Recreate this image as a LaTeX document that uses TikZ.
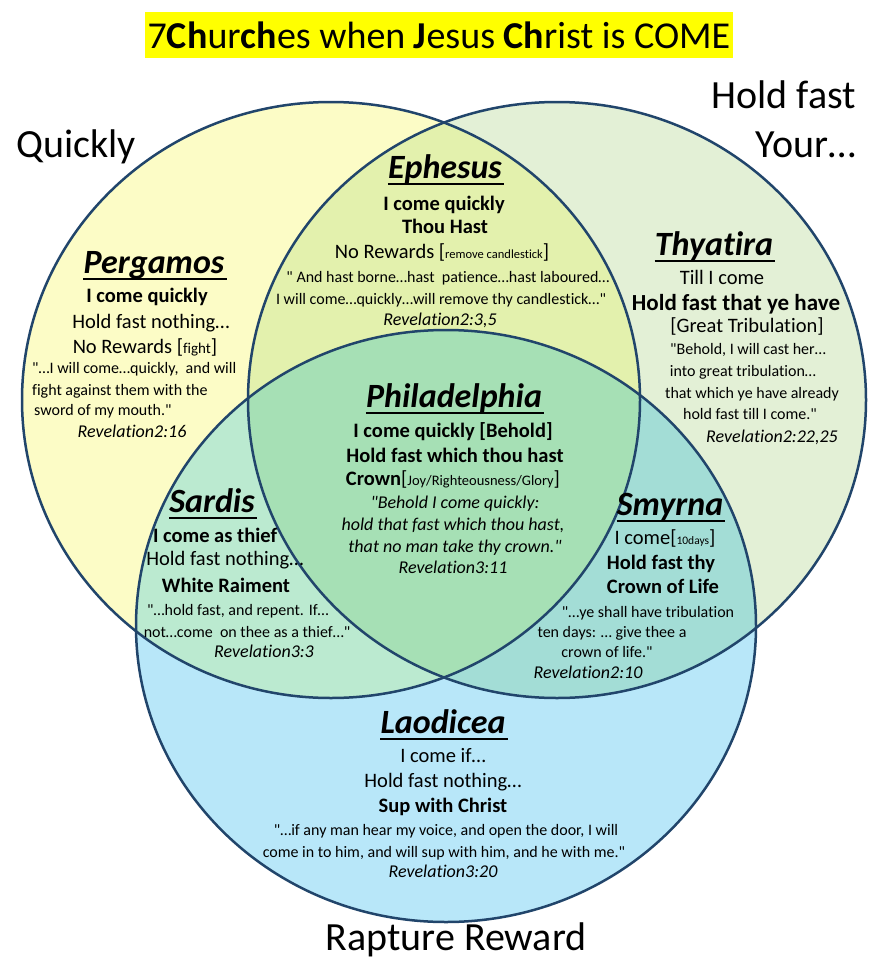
\documentclass[tikz,border=0pt]{standalone}
\usepackage{fontspec}
\setmainfont{Carlito}[Ligatures={NoCommon,NoContextual},Contextuals={NoAlternate}]
\newcommand\fsz[1]{\fontsize{#1}{#1}\selectfont}
\newcommand\dq{\textquotedbl}
\newcommand\tIi{t\kern0pt i}
\definecolor{cyel}{HTML}{FCFCC6}
\definecolor{cgrn}{HTML}{E3F0D6}
\definecolor{cblu}{HTML}{B8E7F9}
\definecolor{ceph}{HTML}{E3F1AD}
\definecolor{csar}{HTML}{BBEAD0}
\definecolor{csmy}{HTML}{A3DDD6}
\definecolor{cphi}{HTML}{A6E0B5}
\definecolor{cline}{HTML}{21456B}
\definecolor{chl}{HTML}{FFFF00}
\newcommand\venL{(331,400) ellipse [x radius=309pt,y radius=298pt]}
\newcommand\venR{(557,400) ellipse [x radius=309pt,y radius=298pt]}
\newcommand\venB{(446,626) ellipse [x radius=310pt,y radius=296pt]}
\begin{document}
\begin{tikzpicture}[x=1pt,y=-1pt,
  lbl/.style={anchor=base,inner sep=0pt,text=black},
  nm/.style={lbl,font=\fsz{34}\bfseries\itshape},
  rg/.style={lbl,font=\fsz{20.5}},
  bd/.style={lbl,font=\fsz{20.5}\bfseries},
  qt/.style={lbl,font=\fsz{16}},
  qi/.style={lbl,font=\fsz{18}\itshape},
  rf/.style={lbl,font=\fsz{18}\itshape},
  big/.style={lbl,font=\fsz{40}},
  ring/.style={draw=cline,line width=2.5pt},
  ul/.style={line width=2.4pt,black}]
\fill[white] (0,0) rectangle (881,972);
\useasboundingbox (0,0) rectangle (881,972);
% region fills
\fill[cyel] \venL;
\fill[cgrn] \venR;
\fill[cblu] \venB;
\begin{scope}\clip \venL; \fill[ceph] \venR; \end{scope}
\begin{scope}\clip \venL; \fill[csar] \venB; \end{scope}
\begin{scope}\clip \venR; \fill[csmy] \venB; \end{scope}
\begin{scope}\clip \venL; \clip \venR; \fill[cphi] \venB; \end{scope}
\draw[ring] \venL;
\draw[ring] \venR;
\draw[ring] \venB;
% title
\node[lbl,fill=chl,minimum width=588pt,text height=36pt,text depth=10pt,font=\fsz{38}] (title) at (439,48)
  {7\textbf{Ch}ur\textbf{ch}es when \textbf{J}esus \textbf{Ch}rist is COME};
% big labels
\node[big,anchor=base west] (quick) at (16,157) {Quickly};
\node[big,anchor=base east] (hold) at (856,108) {Hold fast};
\node[big,anchor=base east] (your) at (856,157) {Your…};
\node[big] (rapt) at (456,950) {Rapture Reward};
% Ephesus
\node[nm] (ephN) at (445,178) {Ephesus};
\node[bd] (eph1) at (444,210) {I come quickly};
\node[bd] (eph2) at (445,233) {Thou Hast};
\node[rg] (eph3) at (442,258) {No Rewards [{\fsz{12.5}remove candlestick}]};
\node[qt] (eph4) at (448,282) {\dq{} And hast borne…hast\ \ pa\tIi ence…hast laboured…};
\node[qt] (eph5) at (441,304) {I will come…quickly…will remove thy candlestick…\dq};
\node[rf] (eph6) at (440,325) {Revela\tIi on2:3,5};
% Pergamos
\node[nm] (perN) at (154,273) {Pergamos};
\node[bd] (per1) at (147,302) {I come quickly};
\node[rg] (per2) at (151,328) {Hold fast nothing…};
\node[rg] (per3) at (145,353) {No Rewards [{\fsz{15}fight}]};
\node[qt,anchor=base west] (per4) at (32,373) {\dq…I will come…quickly,\ \ and will};
\node[qt,anchor=base west] (per5) at (32,395) {fight against them with the};
\node[qt,anchor=base west] (per6) at (34,415) {sword of my mouth.\dq};
\node[rf] (per7) at (132,437) {Revela\tIi on2:16};
% Thyatira
\node[nm] (thyN) at (714,255) {Thya\tIi ra};
\node[rg] (thy1) at (722,284) {Till I come};
\node[bd,font=\fsz{23}\bfseries] (thy2) at (736,310) {Hold fast that ye have};
\node[rg] (thy3) at (747,332) {[Great Tribula\tIi on]};
\node[qt] (thy4) at (748,354) {\dq Behold, I will cast her…};
\node[qt] (thy5) at (743,376) {into great tribula\tIi on…};
\node[qt] (thy6) at (752,398) {that which ye have already};
\node[qt] (thy7) at (750,419) {hold fast till I come.\dq};
\node[rf] (thy8) at (772,442) {Revela\tIi on2:22,25};
% Philadelphia
\node[nm] (phiN) at (454,407) {Philadelphia};
\node[bd] (phi1) at (453,437) {I come quickly [Behold]};
\node[bd] (phi2) at (455,462) {Hold fast which thou hast};
\node[rg] (phi3) at (453,485) {\textbf{Crown}[{\fsz{14.5}Joy/Righteousness/Glory}]};
\node[qi] (phi4) at (455,508) {\dq Behold I come quickly:};
\node[qi] (phi5) at (453,530) {hold that fast which thou hast,};
\node[qi] (phi6) at (455,552) {that no man take thy crown.\dq};
\node[rf] (phi7) at (453,573) {Revela\tIi on3:11};
% Sardis
\node[nm] (sarN) at (212,512) {Sardis};
\node[bd] (sar1) at (215,542) {I come as thief};
\node[rg] (sar2) at (225,565) {Hold fast nothing…};
\node[bd] (sar3) at (226,592) {White Raiment};
\node[qt] (sar4) at (238,615) {\dq…hold fast, and repent. If…};
\node[qt] (sar5) at (247,637) {not…come\ \ on thee as a thief…\dq};
\node[rf] (sar6) at (264,657) {Revela\tIi on3:3};
% Smyrna
\node[nm] (smyN) at (670,515) {Smyrna};
\node[rg] (smy1) at (665,544) {I come[{\fsz{11.5}10days}]};
\node[bd] (smy2) at (661,569) {Hold fast thy};
\node[bd] (smy3) at (663,593) {Crown of Life};
\node[qt] (smy4) at (648,617) {\dq…ye shall have tribula\tIi on};
\node[qt] (smy5) at (612,637) {ten days: … give thee a};
\node[qt] (smy6) at (607,657) {crown of life.\dq};
\node[rf] (smy7) at (588,678) {Revela\tIi on2:10};
% Laodicea
\node[nm] (laoN) at (443,733) {Laodicea};
\node[rg] (lao1) at (443,762) {I come if…};
\node[rg] (lao2) at (443,787) {Hold fast nothing…};
\node[bd] (lao3) at (443,812) {Sup with Christ};
\node[qt] (lao4) at (446,835) {\dq…if any man hear my voice, and open the door, I will};
\node[qt] (lao5) at (444,857) {come in to him, and will sup with him, and he with me.\dq};
\node[rf] (lao6) at (443,877) {Revela\tIi on3:20};
% underlines of church names
\foreach \n in {ephN,perN,thyN,phiN,sarN,smyN,laoN}
  \draw[ul] ([yshift=-6pt]\n.base west) -- ([shift={(2pt,-6pt)}]\n.base east);
\end{tikzpicture}
\end{document}
